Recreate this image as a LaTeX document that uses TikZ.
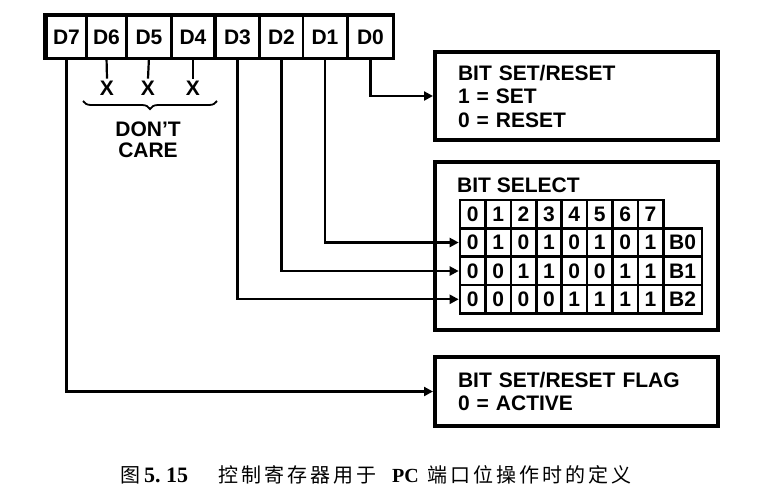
\documentclass[tikz,border=0pt]{standalone}
\usepackage{fontspec}
\setmainfont{Liberation Sans}
\newfontfamily\cjk[LetterSpace=15]{Noto Sans CJK SC}
\newfontfamily\capfont{Liberation Serif}
\usetikzlibrary{arrows.meta,positioning,decorations.pathreplacing}

\begin{document}
\begin{tikzpicture}[x=1pt, y=-1pt,
  regcell/.style={rectangle, fill=white, minimum height=40pt, inner sep=0pt,
    font=\fontsize{21}{24}\selectfont\bfseries},
  xmark/.style={inner sep=0pt, inner ysep=2pt, font=\fontsize{21}{24}\selectfont\bfseries},
  infobox/.style={rectangle, draw=black, line width=4pt, align=left, text width=237pt,
    inner xsep=23pt, font=\fontsize{21}{23.5}\selectfont\bfseries},
  tabcell/.style={rectangle, draw=black, line width=2.6pt, minimum width=25.4pt,
    minimum height=28.3pt, inner sep=0pt, font=\fontsize{21}{24}\selectfont\bfseries},
  wire/.style={line width=2.2pt},
  arr/.style={-{Triangle[length=9pt,width=9pt]}, line width=2.2pt}
]
\useasboundingbox (0,0) rectangle (773,498);

% control word register
\fill (43,13) rectangle (395,60);
\node[regcell, minimum width=37pt] (d7) at (66.5,37)  {D7};
\node[regcell, minimum width=37pt] (d6) at (106.5,37) {D6};
\node[regcell, minimum width=42pt] (d5) at (149,37)   {D5};
\node[regcell, minimum width=40pt] (d4) at (193,37)   {D4};
\node[regcell, minimum width=41pt] (d3) at (237.5,37) {D3};
\node[regcell, minimum width=41pt] (d2) at (281.5,37) {D2};
\node[regcell, minimum width=42pt] (d1) at (325,37)   {D1};
\node[regcell, minimum width=43pt] (d0) at (370.5,37) {D0};

% unused bits
\node[xmark] (x6) at (107,88) {X};
\node[xmark] (x5) at (148,88) {X};
\node[xmark] (x4) at (193,88) {X};
\draw[wire] (d6.south) -- (x6.north);
\draw[wire] (d5.south) -- (x5.north);
\draw[wire] (d4.south) -- (x4.north);
\coordinate (brl) at (83,101);
\coordinate (brr) at (217,101);
\draw[line width=1.8pt, decorate, decoration={brace, mirror, amplitude=8pt}] (brl) -- (brr);
\node[xmark, align=center, font=\fontsize{21}{20.5}\selectfont\bfseries] (dc) at (148,140)
  {DON’T\\CARE};

% result boxes
\node[infobox, minimum height=88pt] (setbox) at (576.5,96)
  {BIT SET/RESET\\1 = SET\\0 = RESET};
\node[infobox, minimum height=168pt] (selbox) at (576.5,246) {};
\node[xmark, anchor=west, inner ysep=0pt] (seltitle) at (457,185) {BIT SELECT};
\node[infobox, minimum height=69pt] (flagbox) at (576.5,391.5)
  {BIT SET/RESET FLAG\\0 = ACTIVE};

% bit select table
\foreach \v [count=\i from 0] in {0,1,2,3,4,5,6,7}
  \node[tabcell] (hc\i) at ({460+25.4*(\i+0.5)},214) {\v};
\foreach \v [count=\i from 0] in {0,1,0,1,0,1,0,1}
  \node[tabcell] (b0c\i) at ({460+25.4*(\i+0.5)},242.5) {\v};
\foreach \v [count=\i from 0] in {0,0,1,1,0,0,1,1}
  \node[tabcell] (b1c\i) at ({460+25.4*(\i+0.5)},271) {\v};
\foreach \v [count=\i from 0] in {0,0,0,0,1,1,1,1}
  \node[tabcell] (b2c\i) at ({460+25.4*(\i+0.5)},299.3) {\v};
\node[tabcell, minimum width=39pt] (b0lab) at (682.5,242.5) {B0};
\node[tabcell, minimum width=39pt] (b1lab) at (682.5,271)   {B1};
\node[tabcell, minimum width=39pt] (b2lab) at (682.5,299.3) {B2};

% bit lines
\draw[arr] (d0.south) |- (setbox.west);
\draw[arr] (d1.south) |- (b0c0.west);
\draw[arr] (d2.south) |- (b1c0.west);
\draw[arr] (d3.south) |- (b2c0.west);
\draw[arr] (d7.south) |- (flagbox.west);

\node[font=\fontsize{20}{24}\selectfont, anchor=west, inner sep=0pt] (caption) at (120,475)
  {\cjk 图\hspace{4pt}{\capfont\bfseries\fontsize{22}{24}\selectfont 5.\ 15}\hspace{30pt}控制寄存器用于\hspace{16pt}{\capfont\bfseries\fontsize{20}{24}\selectfont PC}\hspace{9pt}端口位操作时的定义};

\end{tikzpicture}
\end{document}
